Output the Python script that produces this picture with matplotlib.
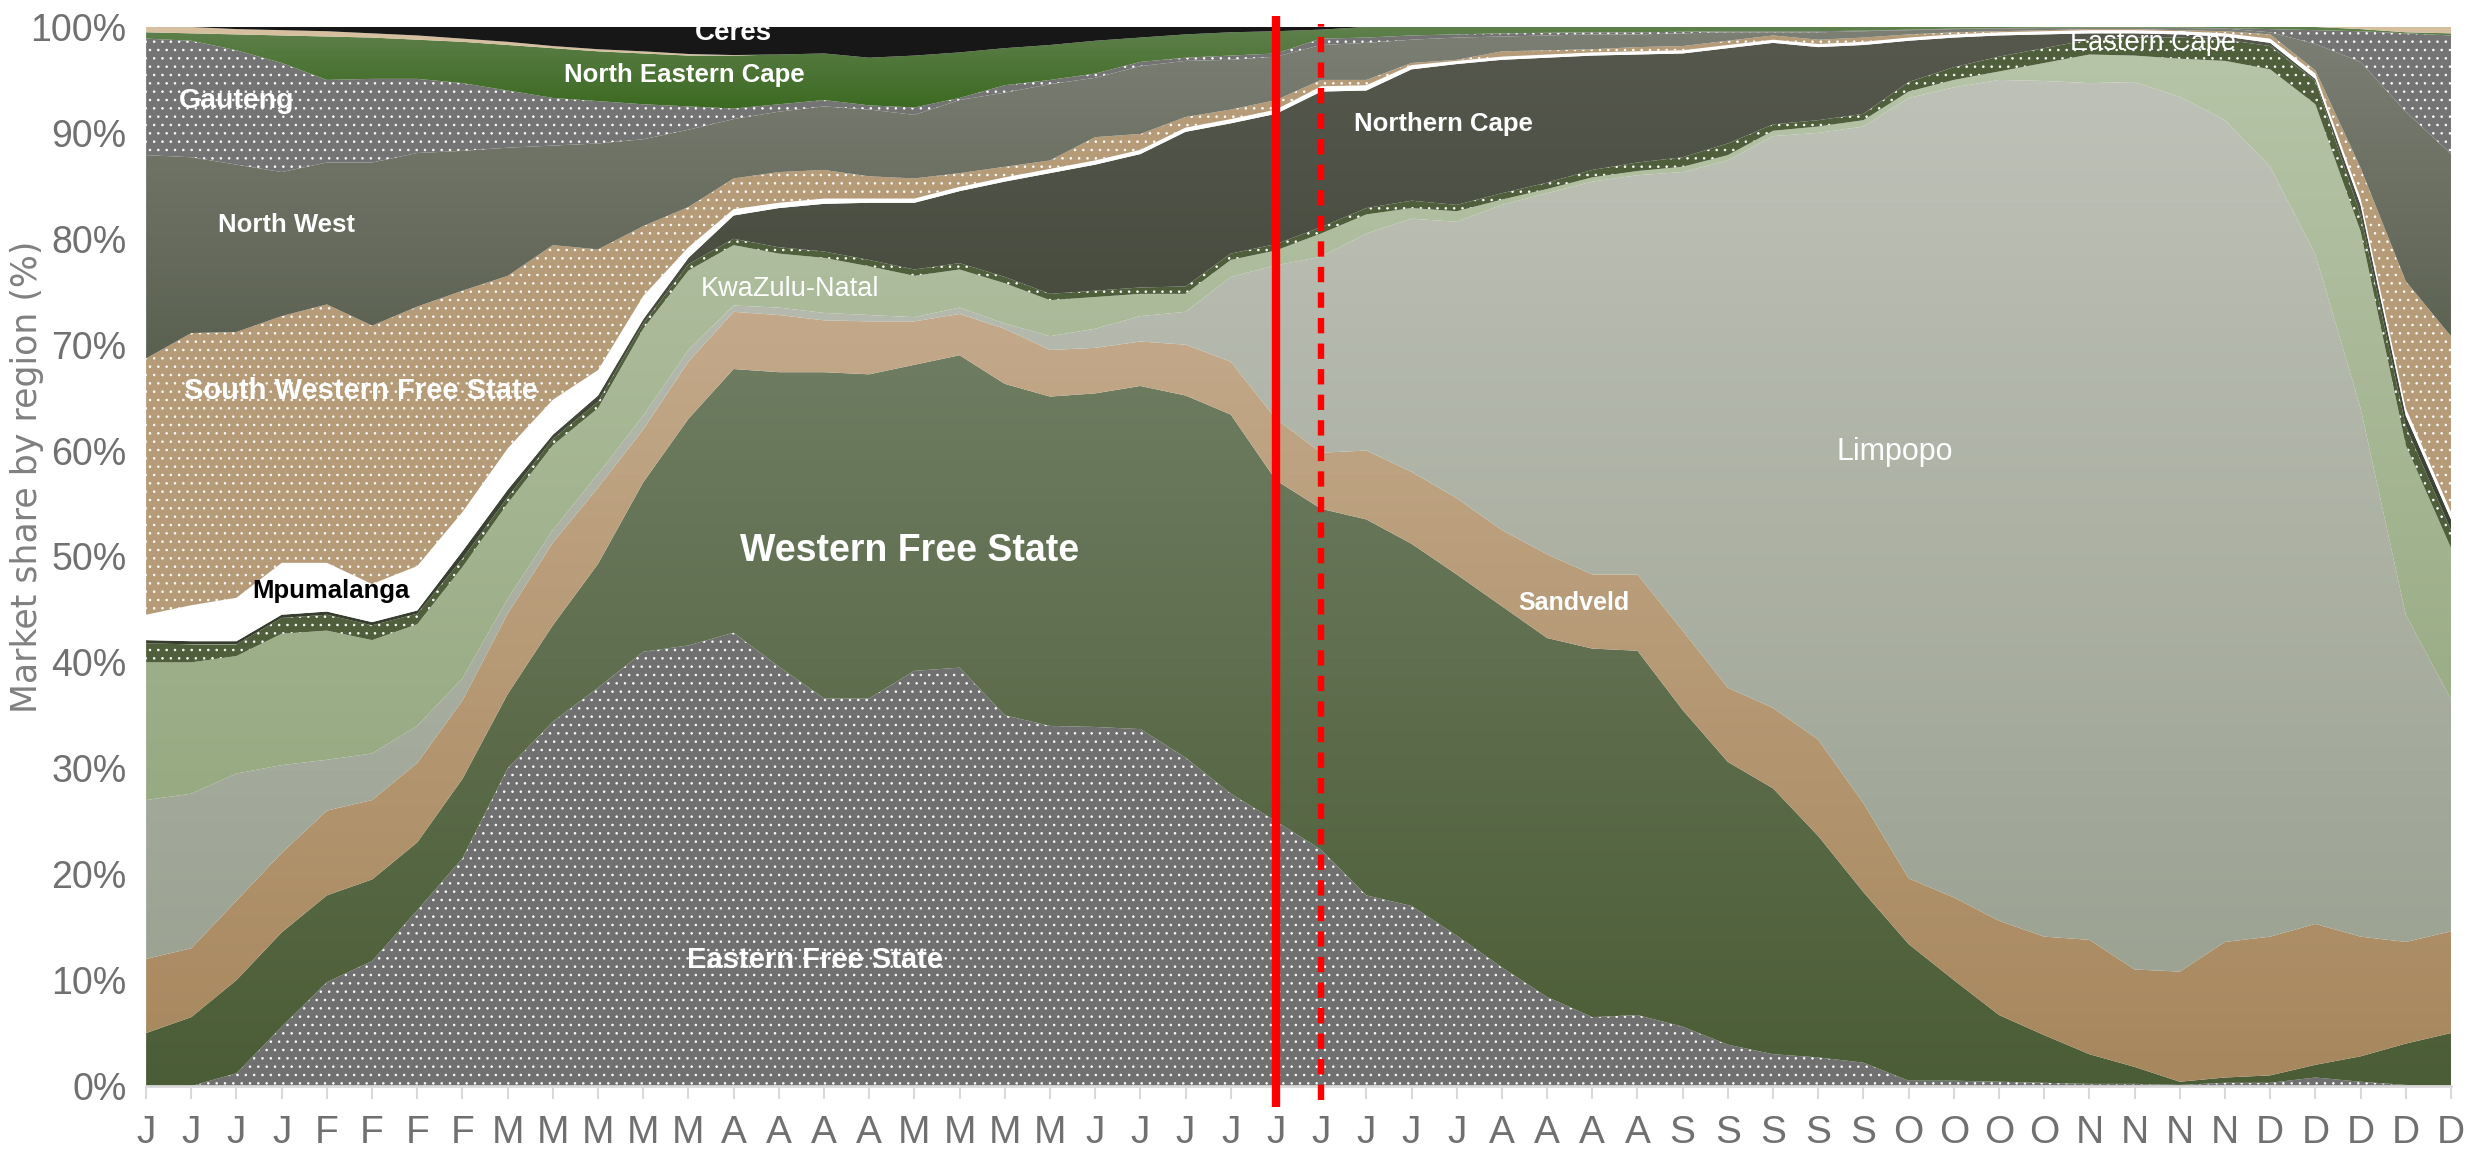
import numpy as np
import matplotlib
matplotlib.use("Agg")
import matplotlib.pyplot as plt
from matplotlib.colors import LinearSegmentedColormap
from matplotlib import font_manager

# week labels (one letter per week)
weeks = ["J", "J", "J", "J", "F", "F", "F", "F", "M", "M", "M", "M", "M",
         "A", "A", "A", "A", "M", "M", "M", "M",
         "J", "J", "J", "J", "J", "J", "J", "J", "J",
         "A", "A", "A", "A", "S", "S", "S", "S", "S",
         "O", "O", "O", "O", "N", "N", "N", "N", "D", "D", "D", "D", "D"]

# cumulative market share (%) at the top of each region, bottom to top
cum_eastern_free_state = [0, 0, 1.2, 5.6, 9.8, 11.8, 16.6, 21.5, 30, 34.4,
                          37.6, 41, 41.6, 42.8, 39.6, 36.6, 36.6, 39.2, 39.5, 35,
                          34, 33.9, 33.7, 31, 27.6, 25, 22.3, 18, 17, 14.2,
                          11.2, 8.4, 6.5, 6.7, 5.6, 3.9, 3, 2.7, 2.2, 0.5,
                          0.5, 0.4, 0.3, 0.2, 0.2, 0.1, 0.3, 0.3, 0.8, 0.4,
                          0.1, 0]
cum_western_free_state = [5, 6.5, 10, 14.5, 18, 19.5, 23, 29, 37, 43.5,
                          49.3, 57, 63, 67.7, 67.4, 67.4, 67.2, 68.1, 69, 66.3,
                          65.1, 65.4, 66.1, 65.2, 63.4, 57.2, 54.5, 53.5, 51.2, 48.3,
                          45.3, 42.3, 41.3, 41.1, 35.5, 30.6, 28.1, 23.6, 18.3, 13.4,
                          10, 6.7, 4.8, 3, 1.8, 0.4, 0.8, 1, 2, 2.8,
                          4, 5]
cum_sandveld = [12, 13, 17.5, 22, 26, 27, 30.5, 36.4, 44.6, 51.3,
                56.5, 62, 68.4, 73.1, 72.8, 72.3, 72.2, 72.2, 72.9, 71.5,
                69.5, 69.7, 70.3, 70, 68.4, 63, 59.8, 60, 58, 55.5,
                52.5, 50.2, 48.3, 48.3, 43, 37.6, 35.7, 32.7, 26.7, 19.6,
                17.8, 15.6, 14.1, 13.8, 11, 10.8, 13.6, 14.1, 15.3, 14.1,
                13.6, 14.6]
cum_limpopo = [27, 27.6, 29.5, 30.3, 30.8, 31.4, 34, 38.5, 46, 52.5,
               57.8, 63.3, 69.5, 73.7, 73.5, 73, 72.8, 72.6, 73.5, 72,
               70.8, 71.5, 72.7, 73.1, 76.4, 77.5, 78.3, 80.5, 81.9, 81.6,
               83.2, 84.3, 85.4, 86, 86.3, 87.4, 89.7, 90, 90.6, 93.3,
               94.3, 95, 94.9, 94.7, 94.8, 93.4, 91.2, 86.8, 78.5, 64,
               44.5, 36.5]
cum_kwazulu_natal = [40, 40, 40.6, 42.7, 43, 42.1, 43.6, 49, 55, 60.5,
                     64, 71.5, 77, 79.4, 78.6, 78.2, 77.4, 76.5, 77.1, 75.8,
                     74.2, 74.5, 74.8, 74.8, 78, 78.9, 80.5, 82.3, 82.9, 82.6,
                     83.7, 84.7, 85.8, 86.4, 86.8, 87.9, 90.2, 90.6, 91.2, 93.9,
                     95, 95.8, 96.6, 97.4, 97.3, 97, 96.8, 96, 92.7, 80.7,
                     60.5, 50.8]
cum_eastern_cape = [41.8, 41.7, 41.7, 44.2, 44.5, 43.5, 44.6, 49.8, 55.6, 61.1,
                    64.6, 72, 77.6, 80, 79.2, 78.8, 78, 77.1, 77.7, 76.4,
                    74.8, 75.1, 75.4, 75.5, 78.6, 79.5, 81.1, 82.9, 83.6, 83.2,
                    84.3, 85.3, 86.5, 87.2, 87.7, 89, 90.8, 91.2, 91.8, 94.8,
                    96.2, 97.2, 98, 98.8, 99, 99, 98.8, 98.2, 94.9, 82.2,
                    62.3, 52.5]
cum_northern_cape = [42.1, 42, 42, 44.5, 44.8, 43.8, 44.9, 50.5, 56.3, 61.5,
                     65.2, 72.4, 78.2, 82.2, 82.9, 83.3, 83.4, 83.4, 84.5, 85.4,
                     86.2, 87, 88, 90.1, 90.9, 91.8, 93.9, 94, 96, 96.5,
                     96.9, 97.1, 97.3, 97.4, 97.5, 98, 98.5, 98.1, 98.3, 98.7,
                     99, 99.2, 99.3, 99.4, 99.4, 99.3, 99.1, 98.5, 95.1, 83.2,
                     63.3, 53.5]
cum_mpumalanga = [44.5, 45.4, 46.1, 49.4, 49.4, 47.4, 49.1, 54.2, 60.2, 64.8,
                  67.6, 74.6, 79.2, 82.8, 83.4, 83.8, 83.8, 83.8, 84.9, 85.8,
                  86.6, 87.4, 88.4, 90.5, 91.3, 92.2, 94.4, 94.5, 96.4, 96.8,
                  97.2, 97.4, 97.6, 97.7, 97.8, 98.3, 98.8, 98.4, 98.6, 99,
                  99.3, 99.5, 99.6, 99.7, 99.7, 99.6, 99.4, 98.9, 95.6, 83.8,
                  64, 54.2]
cum_south_western_fs = [68.7, 71.1, 71.2, 72.7, 73.8, 71.8, 73.6, 75.1, 76.5, 79.4,
                        79, 81.2, 83, 85.7, 86.3, 86.5, 85.9, 85.7, 86.2, 86.8,
                        87.4, 89.6, 89.9, 91.5, 92.2, 93.1, 95, 95, 96.6, 96.9,
                        97.7, 97.8, 97.9, 98.1, 98.2, 98.7, 99.2, 98.8, 99, 99.3,
                        99.5, 99.6, 99.7, 99.8, 99.8, 99.7, 99.6, 99.3, 95.9, 86.7,
                        76, 70.8]
cum_north_west = [87.9, 87.7, 87, 86.3, 87.2, 87.2, 88.1, 88.3, 88.6, 88.8,
                  89, 89.4, 90.3, 91.3, 92, 92.5, 92.2, 91.7, 93.1, 93.8,
                  94.6, 95.2, 96.3, 96.8, 96.9, 97.2, 98.3, 98.5, 98.8, 99,
                  99.1, 99.2, 99.3, 99.3, 99.4, 99.5, 99.5, 99.5, 99.6, 99.7,
                  99.8, 99.85, 99.9, 99.9, 99.9, 99.9, 99.85, 99.5, 98.4, 96.7,
                  92, 88]
cum_gauteng = [98.9, 98.7, 97.8, 96.6, 95, 95.1, 95.1, 94.7, 94, 93.3,
               93, 92.7, 92.5, 92.3, 92.7, 93.1, 92.6, 92.4, 93.3, 94.5,
               95, 95.6, 96.7, 97.1, 97.3, 97.5, 98.9, 99, 99.2, 99.3,
               99.4, 99.45, 99.5, 99.5, 99.55, 99.6, 99.6, 99.6, 99.65, 99.75,
               99.85, 99.9, 99.93, 99.93, 99.93, 99.93, 99.9, 99.8, 99.7, 99.6,
               99.4, 99.2]
cum_north_eastern_cape = [99.5, 99.4, 99.3, 99.2, 99.1, 99, 98.8, 98.6, 98.3, 98,
                          97.7, 97.5, 97.3, 97.3, 97.4, 97.5, 97.1, 97.3, 97.6, 98,
                          98.3, 98.7, 99, 99.3, 99.5, 99.6, 99.75, 100, 100, 100,
                          100, 100, 100, 100, 100, 100, 100, 100, 100, 100,
                          100, 100, 100, 100, 100, 100, 100, 100, 100, 99.8,
                          99.5, 99.4]
cum_other = [100, 100, 99.8, 99.7, 99.6, 99.4, 99.2, 98.9, 98.6, 98.2,
             97.9, 97.7, 97.45, 97.35, 97.4, 97.5, 97.1, 97.3, 97.6, 98,
             98.3, 98.7, 99, 99.3, 99.5, 99.6, 99.75, 100, 100, 100,
             100, 100, 100, 100, 100, 100, 100, 100, 100, 100,
             100, 100, 100, 100, 100, 100, 100, 100, 100, 100,
             100, 100]
cum_ceres = [100] * 52

# (kind, colour 1, colour 2): grad = top/bottom colours, dots = face colour
styles = [
    ("dots", "#707070", None),             # Eastern Free State
    ("grad", "#6e7c61", "#4b5d36"),        # Western Free State
    ("grad", "#c3a98a", "#a7875d"),        # Sandveld
    ("grad", "#bec1b7", "#9ca393"),        # Limpopo
    ("grad", "#b6c4a7", "#97aa82"),        # KwaZulu-Natal
    ("dots", "#4f5f3b", None),             # Eastern Cape
    ("grad", "#56584d", "#373e2e"),        # Northern Cape
    ("solid", "#ffffff", None),            # Mpumalanga
    ("dots", "#b69b79", None),             # South Western Free State
    ("grad", "#7c7f74", "#5b6151"),        # North West
    ("dots", "#747474", None),             # Gauteng
    ("grad", "#5f804c", "#3c6a21"),        # North Eastern Cape
    ("solid", "#d6bf9e", None),            # other
    ("solid", "#171717", None),            # Ceres
]

names = {f.name for f in font_manager.fontManager.ttflist}
narrow = "Liberation Sans Narrow" if "Liberation Sans Narrow" in names else "Liberation Sans"
plt.rcParams["font.family"] = [narrow, "DejaVu Sans"]
plt.rcParams["hatch.color"] = "white"
plt.rcParams["hatch.linewidth"] = 0.6

x = np.arange(len(weeks))
tops = np.array([cum_eastern_free_state, cum_western_free_state, cum_sandveld,
                 cum_limpopo, cum_kwazulu_natal, cum_eastern_cape, cum_northern_cape,
                 cum_mpumalanga, cum_south_western_fs, cum_north_west, cum_gauteng,
                 cum_north_eastern_cape, cum_other, cum_ceres], dtype=float)
tops = np.maximum.accumulate(tops, axis=0)
lowers = np.vstack([np.zeros(len(x)), tops[:-1]])

fig = plt.figure(figsize=(24.68, 11.58), dpi=100)
ax = fig.add_axes([0.0592, 0.0622, 0.9339, 0.9145])

grad = np.linspace(0, 1, 256).reshape(-1, 1)
for k in range(len(tops)):
    lo, hi = lowers[k], tops[k]
    kind, c1, c2 = styles[k]
    if kind == "grad":
        poly = ax.fill_between(x, lo, hi, facecolor="none", lw=0)
        cmap = LinearSegmentedColormap.from_list("g%d" % k, [c2, c1])
        im = ax.imshow(grad, cmap=cmap, aspect="auto", origin="lower",
                       extent=[x[0], x[-1], lo.min(), hi.max()],
                       interpolation="bilinear", zorder=1)
        im.set_clip_path(poly.get_paths()[0], ax.transData)
    elif kind == "dots":
        ax.fill_between(x, lo, hi, facecolor=c1, edgecolor="white",
                        hatch="..", lw=0, zorder=1)
    else:
        ax.fill_between(x, lo, hi, facecolor=c1, lw=0, zorder=1)

# red marker lines
ax.plot([25, 25], [-2, 101], color="#ff0000", lw=6, clip_on=False,
        solid_capstyle="butt", zorder=5)
ax.plot([26, 26], [-1.3, 100.3], color="#ff0000", lw=4.6, ls=(0, (2.4, 1.6)),
        clip_on=False, zorder=5)

# region labels
labels = [
    ("Ceres", 13.0, 99.4, 20, "bold", "white"),
    ("North Eastern Cape", 11.9, 95.5, 18.5, "bold", "white"),
    ("Gauteng", 2.0, 93.0, 20.5, "bold", "white"),
    ("North West", 3.1, 81.3, 18.5, "bold", "white"),
    ("KwaZulu-Natal", 14.25, 75.3, 19.5, "normal", "white"),
    ("Northern Cape", 28.7, 90.8, 18.5, "bold", "white"),
    ("Eastern Cape", 44.4, 98.5, 19.5, "normal", "white"),
    ("South Western Free State", 4.75, 65.6, 21, "bold", "white"),
    ("Mpumalanga", 4.1, 46.7, 18.5, "bold", "black"),
    ("Western Free State", 16.9, 50.5, 27, "bold", "white"),
    ("Limpopo", 38.7, 59.9, 22, "normal", "white"),
    ("Sandveld", 31.6, 45.6, 18, "bold", "white"),
    ("Eastern Free State", 14.8, 11.9, 21, "bold", "white"),
]
for text, lx, ly, size, weight, col in labels:
    ax.text(lx, ly, text, ha="center", va="center", fontsize=size,
            fontweight=weight, color=col, zorder=6, clip_on=True)

ax.set_xlim(0, 51)
ax.set_ylim(0, 100)
ax.set_xticks(x)
ax.set_xticklabels(weeks)
ax.set_yticks(range(0, 101, 10))
ax.set_yticklabels(["%d%%" % v for v in range(0, 101, 10)])
for s in ["top", "right", "left"]:
    ax.spines[s].set_visible(False)
ax.spines["bottom"].set_color("#d9d9d9")
ax.spines["bottom"].set_linewidth(2)
ax.tick_params(axis="y", length=0, pad=14, labelsize=27, labelcolor="#707070")
ax.tick_params(axis="x", length=9, width=1.5, color="#d9d9d9", pad=12,
               labelsize=28, labelcolor="#707070")

ax.set_ylabel("Market share by region (%)", fontsize=25, color="#808080",
              family="DejaVu Sans")
ax.yaxis.set_label_coords(-0.0445, 0.575)

fig.savefig("out.png", dpi=100)
